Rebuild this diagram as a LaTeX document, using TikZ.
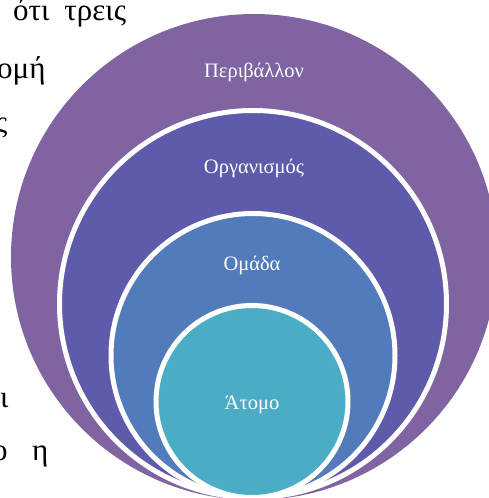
\documentclass[tikz,border=0pt]{standalone}
\usepackage{fontspec}
\setmainfont{Liberation Serif}
\definecolor{envc}{HTML}{8064A2}
\definecolor{orgc}{HTML}{5E5BAB}
\definecolor{grpc}{HTML}{527BBB}
\definecolor{indc}{HTML}{4AACC5}
\begin{document}
\begin{tikzpicture}[x=1pt,y=-1pt,
  ring/.style={draw=white,line width=5pt},
  lvl/.style={text=white,font=\fontsize{20.5}{24}\selectfont,inner sep=0pt},
  bodytext/.style={font=\fontsize{31}{35}\selectfont,anchor=base west,inner sep=0pt}]
\useasboundingbox (0,0) rectangle (489,498);
% surrounding paragraph fragments
\node[bodytext] (p1) at (13,20) {ότι\hspace{15pt}τρεις};
\node[bodytext] (p2) at (-3,78) {ομή};
\node[bodytext] (p3) at (-5,132) {ς};
\node[bodytext] (p4) at (0,407) {ι};
\node[bodytext] (p5) at (-8,460) {ο};
\node[bodytext] (p6) at (32,460) {η};
% nested levels, all touching at the bottom
\fill[envc] (254,257) circle[radius=243];
\filldraw[ring,fill=orgc] (253,304) circle[radius=193.5];
\filldraw[ring,fill=grpc] (253,355.5) circle[radius=142];
\filldraw[ring,fill=indc] (252,401.5) circle[radius=96];
% level labels
\node[lvl] (env) at (254,72) {Περιβάλλον};
\node[lvl] (org) at (254,168) {Οργανισμός};
\node[lvl] (grp) at (252,265) {Ομάδα};
\node[lvl] (ind) at (252,405) {Άτομο};
\end{tikzpicture}
\end{document}
